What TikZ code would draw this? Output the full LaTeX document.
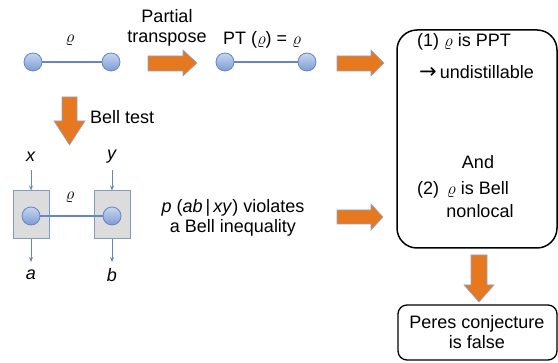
\documentclass[tikz,border=0pt]{standalone}
\usepackage{fontspec}
\setmainfont{Liberation Sans}
\newfontfamily\arrowfont{DejaVu Sans}
\usetikzlibrary{arrows.meta}
\definecolor{org}{RGB}{230,120,32}
\definecolor{orgedge}{RGB}{140,165,210}
\definecolor{qline}{RGB}{100,135,195}
\definecolor{qtop}{RGB}{200,215,240}
\definecolor{qbot}{RGB}{125,155,210}
\definecolor{boxfill}{RGB}{220,220,220}
\definecolor{boxedge}{RGB}{125,155,205}
\begin{document}
\begin{tikzpicture}[x=1pt,y=-1pt,
  font=\fontsize{18}{21}\selectfont,
  qubit/.style={circle, minimum size=18pt, inner sep=0pt, draw=qline, line width=0.8pt, top color=qtop, bottom color=qbot},
  qlink/.style={draw=qline, line width=1.2pt},
  bigarrow/.style={fill=org, draw=orgedge, line width=0.6pt},
  devbox/.style={draw=boxedge, fill=boxfill, line width=1pt, minimum width=36pt, minimum height=48pt, inner sep=0pt},
  io/.style={draw=qline, line width=0.9pt, -{Stealth[length=5pt,width=4pt]}},
  txt/.style={inner sep=0pt, align=center},
  rho/.style={inner sep=0pt, font=\fontsize{17}{20}\selectfont}]
\useasboundingbox (0,0) rectangle (558,363);

% top-left state
\node[qubit] (l1) at (33,62) {};
\node[qubit] (r1) at (111,62) {};
\draw[qlink] (l1) -- (r1);
\node[rho] (rho1) at (70,40) {$\varrho$};

% partial transpose
\node[txt] (pt) at (167,28) {Partial\\[-1pt]transpose};
\fill[bigarrow] (148,56) -- (183,56) -- (183,50) -- (197,63) -- (183,76) -- (183,71) -- (148,71) -- cycle;

% PT state
\node[qubit] (l2) at (225,62) {};
\node[qubit] (r2) at (307,62) {};
\draw[qlink] (l2) -- (r2);
\node[txt] (ptlab) at (262,40) {PT ($\varrho$) = $\varrho$};

\fill[bigarrow] (337,56) -- (371,56) -- (371,50) -- (384,63) -- (371,76) -- (371,71) -- (337,71) -- cycle;

% big box
\draw[line width=1.5pt, rounded corners=20pt] (397,30) rectangle (557,248);
\node[txt, anchor=west] (t1) at (417,42) {(1) $\varrho$ is PPT};
\node[txt, anchor=west] (t2) at (419,72) {{\arrowfont\fontsize{21}{21}\selectfont →}\,undistillable};
\node[txt] (and) at (478,162) {And};
\node[txt, anchor=west] (t3) at (417,190) {(2) \,$\varrho$ is Bell};
\node[txt] (t4) at (480,211) {nonlocal};

% Bell test arrow
\fill[bigarrow] (62,97) -- (77,97) -- (77,121) -- (85,121) -- (69.5,145) -- (54,121) -- (62,121) -- cycle;
\node[txt, anchor=west] (bt) at (90,117) {Bell test};

% Bell scenario
\node[devbox] (A) at (31,215) {};
\node[devbox] (B) at (112,215) {};
\node[qubit] (l3) at (31,216) {};
\node[qubit] (r3) at (112,216) {};
\draw[qlink] (l3) -- (r3);
\node[rho] (rho3) at (70,197) {$\varrho$};
\node[txt] (x) at (31,157) {\textit{x}};
\node[txt] (y) at (112,157) {\textit{y}};
\node[txt] (a) at (31,275) {\textit{a}};
\node[txt] (b) at (112,275) {\textit{b}};
\draw[io] (31,170) -- (A.north);
\draw[io] (112,170) -- (B.north);
\draw[io] (A.south) -- (31,262);
\draw[io] (B.south) -- (112,262);

\node[txt] (viol) at (233,218) {\textit{p} (\textit{ab}\,|\,\textit{xy}) violates\\[-1pt]a Bell inequality};

\fill[bigarrow] (337,210) -- (371,210) -- (371,204) -- (383,217) -- (371,230) -- (371,224) -- (337,224) -- cycle;

% down arrow and Peres box
\fill[bigarrow] (471,255) -- (487,255) -- (487,285) -- (494,285) -- (479,302) -- (464,285) -- (471,285) -- cycle;
\draw[line width=1.3pt, rounded corners=9pt] (398,305) rectangle (557,360);
\node[txt] (peres) at (477,332) {Peres conjecture\\[-1pt]is false};
\end{tikzpicture}
\end{document}
